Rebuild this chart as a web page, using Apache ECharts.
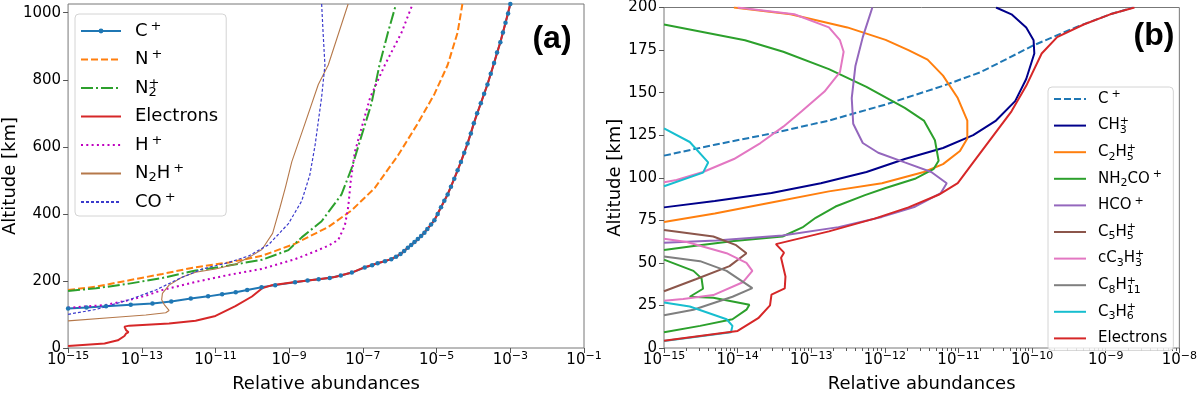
<!DOCTYPE html>
<html>
<head>
<meta charset="utf-8">
<script src="https://cdn.jsdelivr.net/npm/echarts@6/dist/echarts.min.js"></script>
<style>
html, body { margin: 0; padding: 0; background: #fff; }
#main { width: 1200px; height: 398px; }
</style>
</head>
<body>
<div id="main"></div>
<script>
// every point is [log10(relative abundance), altitude in km]

// panel (a)
const aCPlus = [[-15,118],[-14.5,121],[-13.97,124.6],[-13.3,129],[-12.71,133],[-12.2,139],[-11.67,147.8],[-11.2,154],
  [-10.82,160],[-10.45,166],[-10.14,173],[-9.75,181],[-9.38,187.5],[-8.84,196],[-8.5,201],[-8.2,205],[-7.9,209],
  [-7.6,216],[-7.3,225],[-6.95,240],[-6.75,247],[-6.6,253],[-6.4,259],[-6.23,265],[-6.1,272],[-5.98,280],[-5.88,289],
  [-5.78,299],[-5.69,307],[-5.6,316],[-5.51,325],[-5.42,334],[-5.33,344],[-5.25,355],[-5.15,368],[-5.06,381],
  [-4.97,400],[-4.88,420],[-4.79,439],[-4.7,458],[-4.61,481],[-4.52,505],[-4.43,530],[-4.34,555],[-4.25,582],
  [-4.16,610],[-4.07,640],[-3.99,670],[-3.9,700],[-3.8,730],[-3.71,758],[-3.62,786],[-3.53,818],[-3.44,850],
  [-3.36,881],[-3.27,912],[-3.2,941],[-3.13,970],[-3.06,998],[-3.0,1026]];
const aNPlus = [[-15,173],[-14.24,183],[-13.34,202],[-12.44,221],[-11.54,241],[-10.64,255],[-9.74,275],[-8.84,311],
  [-8.5,330],[-7.94,361],[-7.31,410],[-6.68,477],[-6.05,574],[-5.51,670],[-5.06,757],[-4.7,844],[-4.43,941],[-4.3,1026]];
const aN2Plus = [[-15,170],[-14.24,178],[-13.34,192],[-12.44,209],[-11.54,231],[-10.64,246],[-9.74,263],[-9.02,292],
  [-8.66,330],[-8.12,378],[-7.58,458],[-7.31,535],[-7.04,632],[-6.77,728],[-6.55,844],[-6.32,941],[-6.12,1018]];
const aElectrons = [[-15,5.8],[-14.01,13.6],[-13.65,23],[-13.47,35.7],[-13.43,42.6],[-13.36,47],[-13.43,54],[-13.47,63.8],
  [-13.34,66.7],[-12.26,73],[-11.54,81],[-11.0,95.6],[-10.46,124.6],[-10.01,153.6],[-9.74,177.7],[-9.47,187.5],
  [-8.84,197],[-8.2,205],[-7.76,212],[-7.3,225],[-6.95,241],[-6.6,253],[-6.23,265],[-5.98,280],[-5.78,299],[-5.6,315],
  [-5.42,333],[-5.25,355],[-5.06,381],[-4.88,420],[-4.7,458],[-4.52,505],[-4.34,555],[-4.16,610],[-3.99,670],
  [-3.8,730],[-3.62,786],[-3.44,850],[-3.27,912],[-3.13,970],[-3.0,1026]];
const aHPlus = [[-15,120],[-14,128],[-13.34,143],[-12.89,156],[-12.44,173],[-11.54,197],[-10.64,218],[-9.74,236],
  [-8.84,265],[-8.3,288],[-7.94,305],[-7.67,322],[-7.49,365],[-7.4,419],[-7.33,497],[-7.22,584],[-7.05,651],
  [-6.8,748],[-6.4,845],[-5.95,941],[-5.65,1026]];
const aN2HPlus = [[-15,81],[-13.79,91],[-12.89,98.6],[-12.35,105],[-12.26,112],[-12.39,129.6],[-12.46,144],[-12.44,163],
  [-12.26,187.5],[-11.9,211.6],[-11.54,226],[-11.0,235.6],[-10.46,250],[-10.1,269.6],[-9.74,293.6],[-9.45,342],
  [-9.25,419],[-9.1,480],[-8.93,555],[-8.57,670],[-8.21,786],[-7.94,844],[-7.4,1026]];
const aCOPlus = [[-15,100.5],[-14.24,115],[-13.34,144],[-12.62,173],[-11.99,206.7],[-11.36,235.6],[-10.64,255],
  [-10.1,274.5],[-9.56,308],[-9.02,371],[-8.66,438.5],[-8.44,516],[-8.3,603],[-8.12,748],[-8.03,844],[-8.08,941],[-8.12,1028]];

// panel (b)
const bCPlus = [[-15,113],[-14.31,119.4],[-13.54,126],[-12.76,133.6],[-11.99,143],[-11.21,154],[-10.7,162],[-9.97,178],
  [-9.41,188.3],[-8.94,196],[-8.63,200]];
const bCH3 = [[-15,82.6],[-14.31,86.4],[-13.54,91],[-12.87,96.8],[-12.25,103.4],[-11.73,111],[-11.21,117.5],[-10.8,125],
  [-10.49,133.6],[-10.23,145],[-10.08,158],[-9.97,173],[-9.98,180.8],[-10.08,188.3],[-10.28,196],[-10.49,200]];
const bC2H5 = [[-15,74],[-14.31,79],[-13.54,85.5],[-12.76,92],[-12.04,96.8],[-11.47,103.4],[-11.21,108],[-10.98,115.7],
  [-10.88,123],[-10.88,133.6],[-11.01,146.8],[-11.21,160],[-11.42,169.4],[-11.68,175],[-11.99,181],[-12.51,188.3],
  [-13.28,196],[-14.05,200]];
const bNH2COHigh = [[-15,190],[-13.9,180.8],[-13.38,174],[-12.76,163.8],[-12.25,153.4],[-11.73,141],[-11.47,133.6],
  [-11.32,122],[-11.27,110],[-11.34,105],[-11.58,99.6],[-11.99,94],[-12.27,89.8],[-12.67,83.1],[-12.94,76.5],
  [-13.12,70.8],[-13.39,65.5],[-14.05,62.8],[-14.57,60],[-15,57.5]];
const bNH2COLow = [[-15,51.9],[-14.6,45.3],[-14.49,40.9],[-14.47,34.8],[-14.65,30.1],[-14.33,29.5],[-13.84,25.4],
  [-13.88,22.5],[-14.07,16.9],[-14.51,13],[-15,9.3]];
const bHCO = [[-12.17,200],[-12.3,182.6],[-12.4,165.7],[-12.45,146.8],[-12.43,131.7],[-12.3,120.4],[-12.09,114.7],
  [-11.73,109],[-11.37,103.4],[-11.16,96.8],[-11.24,91],[-11.59,83],[-12.04,77],[-12.63,71],[-13.39,66.1],
  [-14.29,63.2],[-15,61.8]];
const bC5H5 = [[-15,69.3],[-14.33,65.5],[-14.02,60.4],[-13.88,55.7],[-14.11,48.1],[-14.56,40.5],[-15,33.3]];
const bC3H3High = [[-14.0,200],[-13.23,196],[-12.76,188.3],[-12.61,180.8],[-12.56,174],[-12.61,162],[-12.82,150.6],
  [-13.13,139],[-13.38,130],[-13.69,120.4],[-14.05,111],[-14.47,103.4],[-14.83,98.7],[-15,97.4]];
const bC3H3Low = [[-15,64.2],[-14.69,62.3],[-14.15,55.7],[-13.88,50],[-13.8,45.3],[-13.93,38.6],[-14.33,31.1],
  [-14.74,28.8],[-15,27.7]];
const bC8H11 = [[-15,53.8],[-14.51,51],[-14.15,45.3],[-13.8,35.2],[-14.07,30.1],[-14.6,22.5],[-15,19.3]];
const bC3H6High = [[-15,129],[-14.65,121],[-14.4,109],[-14.47,103],[-15,95]];
const bC3H6Low = [[-15,26.7],[-14.65,24.4],[-14.15,16.9],[-14.07,13],[-14.09,9.3],[-15,4.1]];
const bElectrons = [[-15,4.3],[-14.0,10],[-13.72,17.5],[-13.56,25],[-13.54,31.3],[-13.36,35],[-13.35,42],[-13.41,53],
  [-13.37,56],[-13.48,61],[-12.76,68.5],[-12.14,76],[-11.68,82.6],[-11.27,90],[-11.01,96.8],[-10.8,109],[-10.54,124],
  [-10.28,139],[-10.08,154],[-9.87,173],[-9.66,182.6],[-9.3,190],[-8.94,196],[-8.61,200]];

// tick labels
const aTicksX = [-15, -13, -11, -9, -7, -5, -3, -1];
const aTicksY = [0, 200, 400, 600, 800, 1000];
const bTicksX = [-15, -14, -13, -12, -11, -10, -9, -8];
const bTicksY = [0, 25, 50, 75, 100, 125, 150, 175, 200];
const minorSteps = [2, 3, 4, 5, 6, 7, 8, 9];

// rich-text versions of the species names
const speciesText = {
  'C+': 'C{sp|+}',
  'N+': 'N{sp|+}',
  'N2+': 'N{sbs|2}{sps|+}',
  'Electrons': 'Electrons',
  'H+': 'H{sp|+}',
  'N2H+': 'N{sb|2}H{sp|+}',
  'CO+': 'CO{sp|+}',
  'CH3+': 'CH{sbs|3}{sps|+}',
  'C2H5+': 'C{sb|2}H{sbs|5}{sps|+}',
  'NH2CO+': 'NH{sb|2}CO{sp|+}',
  'HCO+': 'HCO{sp|+}',
  'C5H5+': 'C{sb|5}H{sbs|5}{sps|+}',
  'cC3H3+': 'cC{sb|3}H{sbs|3}{sps|+}',
  'C8H11+': 'C{sb|8}H{sbs|11}{sps|+}',
  'C3H6+': 'C{sb|3}H{sbs|6}{sps|+}'
};

const FONT = 'DejaVu Sans';
const minorX = [];
for (let d = -15; d < -8; d++) {
  minorSteps.forEach(k => minorX.push(d + Math.log10(k)));
}

function powLabel(v) {
  return '10{e|\u2212' + Math.abs(v) + '}';
}

function richFor(sub) {
  return {
    sp: { fontSize: sub, lineHeight: sub, verticalAlign: 'top', padding: [0, 0, 0, 3], fontFamily: FONT, color: '#000' },
    sps: { fontSize: sub, lineHeight: sub, verticalAlign: 'top', fontFamily: FONT, color: '#000' },
    sb: { fontSize: sub, lineHeight: sub, verticalAlign: 'bottom', fontFamily: FONT, color: '#000' },
    sbs: { fontSize: sub, lineHeight: sub, verticalAlign: 'bottom', width: 0.1, fontFamily: FONT, color: '#000' }
  };
}

const tickRich = { e: { fontSize: 11, lineHeight: 11, verticalAlign: 'top', fontFamily: FONT, color: '#000' } };

function line(name, data, panel, color, width, type, extra) {
  return Object.assign({
    name: name,
    type: 'line',
    data: data,
    xAxisIndex: panel,
    yAxisIndex: panel,
    symbol: 'none',
    clip: true,
    animation: false,
    lineStyle: { color: color, width: width, type: type || 'solid', cap: 'butt' },
    itemStyle: { color: color },
    emphasis: { disabled: true }
  }, extra || {});
}

// legend entry without the marker dot
function plainEntry(name) {
  return { name: name, itemStyle: { opacity: 0 } };
}

const gap = ['-', '-'];

const chart = echarts.init(document.getElementById('main'), null, { renderer: 'canvas' });

const axisCommon = {
  type: 'value',
  splitLine: { show: false },
  axisLine: { show: false },
  nameTextStyle: { fontFamily: FONT, fontSize: 18, color: '#000' }
};

chart.setOption({
  backgroundColor: '#fff',
  animation: false,
  textStyle: { fontFamily: FONT },
  grid: [
    { left: 65, right: 616, top: 4, bottom: 40, show: true, borderColor: '#777', borderWidth: 1, backgroundColor: 'transparent' },
    { left: 664, right: 17, top: 6, bottom: 40, show: true, borderColor: '#777', borderWidth: 1, backgroundColor: 'transparent' }
  ],
  xAxis: [
    Object.assign({}, axisCommon, {
      gridIndex: 0, min: -15, max: -1, position: 'bottom',
      name: 'Relative abundances', nameLocation: 'middle', nameGap: 27,
      axisTick: { show: true, length: 5, lineStyle: { color: '#555' }, customValues: aTicksX },
      axisLabel: { customValues: aTicksX, formatter: powLabel, fontSize: 15, lineHeight: 18, margin: 3, color: '#000', rich: tickRich }
    }),
    Object.assign({}, axisCommon, {
      gridIndex: 1, min: -15, max: -8, position: 'bottom',
      name: 'Relative abundances', nameLocation: 'middle', nameGap: 27,
      axisTick: { show: true, length: 5, lineStyle: { color: '#555' }, customValues: bTicksX },
      axisLabel: { customValues: bTicksX, formatter: powLabel, fontSize: 15, lineHeight: 18, margin: 3, color: '#000', rich: tickRich }
    }),
    Object.assign({}, axisCommon, {
      gridIndex: 1, min: -15, max: -8, position: 'bottom',
      axisTick: { show: true, length: 3, lineStyle: { color: '#555' }, customValues: minorX },
      axisLabel: { show: false }
    })
  ],
  yAxis: [
    Object.assign({}, axisCommon, {
      gridIndex: 0, min: 0, max: 1026,
      name: 'Altitude [km]', nameLocation: 'middle', nameGap: 46, nameRotate: 90,
      axisTick: { show: true, length: 5, lineStyle: { color: '#555' }, customValues: aTicksY },
      axisLabel: { customValues: aTicksY, formatter: v => String(v), fontSize: 15, margin: 7, color: '#000' }
    }),
    Object.assign({}, axisCommon, {
      gridIndex: 1, min: 0, max: 200,
      name: 'Altitude [km]', nameLocation: 'middle', nameGap: 38, nameRotate: 90,
      axisTick: { show: true, length: 5, lineStyle: { color: '#555' }, customValues: bTicksY },
      axisLabel: { customValues: bTicksY, formatter: v => String(v), fontSize: 15, margin: 7, color: '#000' }
    })
  ],
  legend: [
    {
      data: ['a:C+', plainEntry('a:N+'), plainEntry('a:N2+'), plainEntry('a:Electrons'),
        plainEntry('a:H+'), plainEntry('a:N2H+'), plainEntry('a:CO+')],
      orient: 'vertical', left: 75, top: 14,
      itemWidth: 40, itemHeight: 6, itemGap: 6.5,
      padding: [6, 8, 3, 5],
      backgroundColor: 'rgba(255,255,255,0.8)', borderColor: '#d4d4d4', borderWidth: 1, borderRadius: 4,
      selectedMode: false,
      formatter: n => speciesText[n.slice(2)],
      textStyle: { fontFamily: FONT, fontSize: 18, lineHeight: 22, color: '#000', padding: [0, 0, 0, 9], rich: richFor(13) }
    },
    {
      data: ['b:C+', 'b:CH3+', 'b:C2H5+', 'b:NH2CO+', 'b:HCO+', 'b:C5H5+', 'b:cC3H3+', 'b:C8H11+', 'b:C3H6+', 'b:Electrons'].map(plainEntry),
      orient: 'vertical', left: 1048, top: 87,
      itemWidth: 32, itemHeight: 2, itemGap: 6.6,
      padding: [2, 6, 2, 5],
      backgroundColor: 'rgba(255,255,255,0.8)', borderColor: '#d4d4d4', borderWidth: 1, borderRadius: 4,
      selectedMode: false,
      formatter: n => speciesText[n.slice(2)],
      textStyle: { fontFamily: FONT, fontSize: 15, lineHeight: 20, color: '#000', padding: [0, 0, 0, 7], rich: richFor(11) }
    }
  ],
  graphic: [
    { type: 'text', x: 552, y: 39, style: { text: '(a)', fontSize: 32, fontWeight: 'bold', fontFamily: 'Liberation Sans', fill: '#000', align: 'center', verticalAlign: 'middle' } },
    { type: 'text', x: 1154, y: 36, style: { text: '(b)', fontSize: 32, fontWeight: 'bold', fontFamily: 'Liberation Sans', fill: '#000', align: 'center', verticalAlign: 'middle' } }
  ],
  series: [
    line('a:C+', aCPlus, 0, '#1f77b4', 2, 'solid', { symbol: 'circle', symbolSize: 4.5, showSymbol: true, showAllSymbol: true }),
    line('a:N+', aNPlus, 0, '#ff7f0e', 2, [7, 3]),
    line('a:N2+', aN2Plus, 0, '#2ca02c', 2, [12, 3, 2, 3]),
    line('a:Electrons', aElectrons, 0, '#d62728', 2),
    line('a:H+', aHPlus, 0, '#bf00bf', 2, [2, 3.3]),
    line('a:N2H+', aN2HPlus, 0, '#b5784a', 1.1),
    line('a:CO+', aCOPlus, 0, '#3b3bcc', 1.2, [3, 2]),

    line('b:C+', bCPlus, 1, '#1f77b4', 2, [7, 3]),
    line('b:CH3+', bCH3, 1, '#00008b', 2),
    line('b:C2H5+', bC2H5, 1, '#ff7f0e', 2),
    line('b:NH2CO+', bNH2COHigh.concat([gap], bNH2COLow), 1, '#2ca02c', 2),
    line('b:HCO+', bHCO, 1, '#9467bd', 2),
    line('b:C5H5+', bC5H5, 1, '#8c564b', 2),
    line('b:cC3H3+', bC3H3High.concat([gap], bC3H3Low), 1, '#e377c2', 2),
    line('b:C8H11+', bC8H11, 1, '#7f7f7f', 2),
    line('b:C3H6+', bC3H6High.concat([gap], bC3H6Low), 1, '#17becf', 2),
    line('b:Electrons', bElectrons, 1, '#d62728', 2)
  ]
});
</script>
</body>
</html>
